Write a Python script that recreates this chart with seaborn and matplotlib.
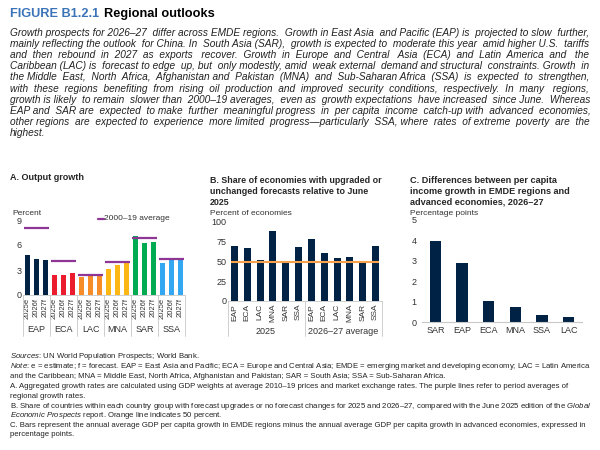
import matplotlib
matplotlib.use("Agg")
import matplotlib.pyplot as plt
import seaborn as sns
import pandas as pd
from matplotlib.lines import Line2D

# datos
regiones = ["EAP", "ECA", "LAC", "MNA", "SAR", "SSA"]
anios = ["2025e", "2026f", "2027f"]
crec_2025 = [4.8, 2.4, 2.2, 3.1, 7.1, 3.9]
crec_2026 = [4.3, 2.4, 2.3, 3.6, 6.2, 4.3]
crec_2027 = [4.2, 2.6, 2.5, 3.9, 6.4, 4.5]
prom_2000_19 = [8.1, 4.05, 2.45, 3.95, 6.8, 4.35]
colores = ["#002345", "#EB1C2D", "#F78D28", "#FDB714", "#00AB51", "#34A7F2"]

periodos_b = ["2025", "2026–27 average"]
share_2025 = [69, 67, 52, 89, 50, 68]
share_2026_27 = [78, 61, 55, 56, 50, 70]

regiones_c = ["SAR", "EAP", "ECA", "MNA", "SSA", "LAC"]
dif_pc = [3.97, 2.87, 1.05, 0.74, 0.36, 0.23]

sns.set_theme(style="white")
plt.rcParams["font.family"] = ["Liberation Sans", "DejaVu Sans"]
plt.rcParams["mathtext.fontset"] = "custom"
plt.rcParams["mathtext.rm"] = "Liberation Sans"
plt.rcParams["mathtext.it"] = "Liberation Sans:italic"

W, H = 600, 450
fig = plt.figure(figsize=(6, 4.5), dpi=100)
rend = fig.canvas.get_renderer()
gris = "#C8C8C8"
azul = "#002345"
txt = "#333333"


def ax_px(x0, y0, x1, y1):
    # ejes en pixeles (arriba-izquierda)
    return fig.add_axes([x0 / W, 1 - y1 / H, (x1 - x0) / W, (y1 - y0) / H])


def linea(x0, y0, x1, y1, color=gris, lw=0.6):
    fig.add_artist(Line2D([x0 / W, x1 / W], [1 - y0 / H, 1 - y1 / H], color=color, lw=lw))


def texto(x, y, s, **kw):
    return fig.text(x / W, 1 - y / H, s, **kw)


def justificado(x0, x1, y, s, **kw):
    # rellena con espacios extra para llegar de x0 a x1
    t = texto(x0, y, s, **kw)
    ancho = t.get_window_extent(rend).width
    palabras = s.split(" ")
    t.set_text(palabras[0] + "  " + " ".join(palabras[1:]))
    esp = t.get_window_extent(rend).width - ancho
    extra = max(int(round((x1 - x0 - ancho) / esp)), 0)
    huecos = len(palabras) - 1
    partes = [palabras[0]]
    for i, p in enumerate(palabras[1:]):
        n = extra * (i + 1) // huecos - extra * i // huecos
        partes.append(" " * (1 + n) + p)
    t.set_text("".join(partes))


# encabezado
texto(10, 14, "FIGURE B1.2.1", color="#3A73B8", fontsize=9.2, fontweight="bold", va="center")
texto(104, 14, "Regional outlooks", color="black", fontsize=9.2, fontweight="bold", va="center")

parrafo = [
    "Growth prospects for 2026–27 differ across EMDE regions. Growth in East Asia and Pacific (EAP) is projected to slow further,",
    "mainly reflecting the outlook for China. In South Asia (SAR), growth is expected to moderate this year amid higher U.S. tariffs",
    "and then rebound in 2027 as exports recover. Growth in Europe and Central Asia (ECA) and Latin America and the",
    "Caribbean (LAC) is forecast to edge up, but only modestly, amid weak external demand and structural constraints. Growth in",
    "the Middle East, North Africa, Afghanistan and Pakistan (MNA) and Sub-Saharan Africa (SSA) is expected to strengthen,",
    "with these regions benefiting from rising oil production and improved security conditions, respectively. In many regions,",
    "growth is likely to remain slower than 2000–19 averages, even as growth expectations have increased since June. Whereas",
    "EAP and SAR are expected to make further meaningful progress in per capita income catch-up with advanced economies,",
    "other regions are expected to experience more limited progress—particularly SSA, where rates of extreme poverty are the",
]
for i, l in enumerate(parrafo):
    justificado(10, 590, 36 + i * 11.1, l, fontsize=7.3, style="italic", va="baseline", color="#222222")
texto(10, 36 + len(parrafo) * 11.1, "highest.", fontsize=7.3, style="italic", va="baseline", color="#222222")

# ---------------- Panel A ----------------
texto(10, 177, "A. Output growth", fontsize=6.5, fontweight="bold", va="center")
df_a = pd.DataFrame({
    "region": [r for r in regiones for _ in anios],
    "anio": anios * len(regiones),
    "valor": [v for trio in zip(crec_2025, crec_2026, crec_2027) for v in trio],
})
df_a["clave"] = df_a["region"] + " " + df_a["anio"]

axA = ax_px(23, 220, 185, 295)
sns.barplot(data=df_a, x="clave", y="valor", hue="region", palette=colores,
            dodge=False, width=0.62, legend=False, ax=axA, saturation=1, linewidth=0)
n_a = len(df_a)
axA.set_xlim(-0.5, n_a - 0.5)
axA.set_ylim(0, 9)
axA.set_yticks([0, 3, 6, 9])
axA.tick_params(axis="y", labelsize=6.5, pad=1, length=0, colors=txt)
axA.set_xticks(range(n_a))
axA.set_xticklabels(df_a["anio"], rotation=90, fontsize=5.5, color=txt)
axA.tick_params(axis="x", length=0, pad=2)
axA.set_xlabel("")
axA.set_ylabel("")
for s in ["top", "right", "left"]:
    axA.spines[s].set_visible(False)
axA.spines["bottom"].set_color(gris)
axA.spines["bottom"].set_linewidth(0.6)
for g, prom in enumerate(prom_2000_19):
    axA.hlines(prom, g * 3 - 0.35, g * 3 + 2.35, color="#8E3596", lw=1.6)
# grupos en eje x (tabla)
for g in range(len(regiones) + 1):
    x = 23 + g * (162 / len(regiones))
    linea(x, 295, x, 336)
for g, r in enumerate(regiones):
    texto(23 + (g + 0.5) * 162 / len(regiones), 330, r, fontsize=6.5, ha="center", va="center", color=txt)
texto(12, 213, "Percent", fontsize=6, va="center", color=txt)
linea(98, 219, 104, 219, color="#8E3596", lw=1.6)
texto(104, 219, "2000–19 average", fontsize=6, va="center", color=txt)

# ---------------- Panel B ----------------
texto(210, 176, "B. Share of economies with upgraded or\nunchanged forecasts relative to June\n2025",
      fontsize=6.4, fontweight="bold", va="top", linespacing=1.27)
df_b = pd.DataFrame({
    "periodo": [p for p in periodos_b for _ in regiones],
    "region": regiones * 2,
    "valor": share_2025 + share_2026_27,
})
df_b["clave"] = df_b["periodo"] + " " + df_b["region"]
axB = ax_px(228, 222, 382, 301)
sns.barplot(data=df_b, x="clave", y="valor", color=azul, width=0.55, ax=axB, saturation=1, linewidth=0)
n_b = len(df_b)
axB.set_xlim(-0.5, n_b - 0.5)
axB.set_ylim(0, 100)
axB.set_yticks([0, 25, 50, 75, 100])
axB.tick_params(axis="y", labelsize=6.5, pad=1, length=0, colors=txt)
axB.set_xticks(range(n_b))
axB.set_xticklabels(df_b["region"], rotation=90, fontsize=6, color=txt)
axB.tick_params(axis="x", length=0, pad=2)
axB.set_xlabel("")
axB.set_ylabel("")
for s in ["top", "right", "left"]:
    axB.spines[s].set_visible(False)
axB.spines["bottom"].set_color(gris)
axB.spines["bottom"].set_linewidth(0.6)
axB.hlines(50, -0.3, n_b - 0.7, color="#F7A14A", lw=1.5, zorder=5)
for x in [228, 305, 382]:
    linea(x, 301, x, 336)
texto(266, 332, periodos_b[0], fontsize=6.5, ha="center", va="center", color=txt)
texto(343, 332, periodos_b[1], fontsize=6.5, ha="center", va="center", color=txt)
texto(210, 213, "Percent of economies", fontsize=6, va="center", color=txt)

# ---------------- Panel C ----------------
texto(410, 176, "C. Differences between per capita\nincome growth in EMDE regions and\nadvanced economies, 2026–27",
      fontsize=6.6, fontweight="bold", va="top", linespacing=1.25)
df_c = pd.DataFrame({"region": regiones_c, "valor": dif_pc})
axC = ax_px(422, 220, 582, 322)
sns.barplot(data=df_c, x="region", y="valor", color=azul, width=0.42, ax=axC, saturation=1, linewidth=0)
axC.set_xlim(-0.5, len(df_c) - 0.5)
axC.set_ylim(0, 5)
axC.set_yticks(range(6))
axC.tick_params(axis="y", labelsize=6.5, pad=4, length=0, colors=txt)
axC.tick_params(axis="x", labelsize=6.5, length=0, pad=3, colors=txt)
axC.set_xlabel("")
axC.set_ylabel("")
for s in ["top", "right", "left"]:
    axC.spines[s].set_visible(False)
axC.spines["bottom"].set_color(gris)
axC.spines["bottom"].set_linewidth(0.8)
texto(410, 213, "Percentage points", fontsize=6, va="center", color=txt)

# ---------------- notas ----------------
notas = [
    ("$\\it{Sources}$: UN World Population Prospects; World Bank.", 357),
    ("$\\it{Note}$: e = estimate; f = forecast. EAP = East Asia and Pacific; ECA = Europe and Central Asia; EMDE = emerging market and developing economy; LAC = Latin America", 367),
    ("and the Caribbean; MNA = Middle East, North Africa, Afghanistan and Pakistan; SAR = South Asia; SSA = Sub-Saharan Africa.", 376.5),
    ("A. Aggregated growth rates are calculated using GDP weights at average 2010–19 prices and market exchange rates. The purple lines refer to period averages of", 386.5),
    ("regional growth rates.", 396),
    ("B. Share of countries within each country group with forecast upgrades or no forecast changes for 2025 and 2026–27, compared with the June 2025 edition of the $\\it{Global}$", 406),
    ("$\\it{Economic\\ Prospects}$ report. Orange line indicates 50 percent.", 415.5),
    ("C. Bars represent the annual average GDP per capita growth in EMDE regions minus the annual average GDP per capita growth in advanced economies, expressed in", 425.5),
    ("percentage points.", 435),
]
for s, y in notas:
    texto(10, y, s, fontsize=5.6, va="center", color="#222222")

fig.savefig("out.png", dpi=100)
